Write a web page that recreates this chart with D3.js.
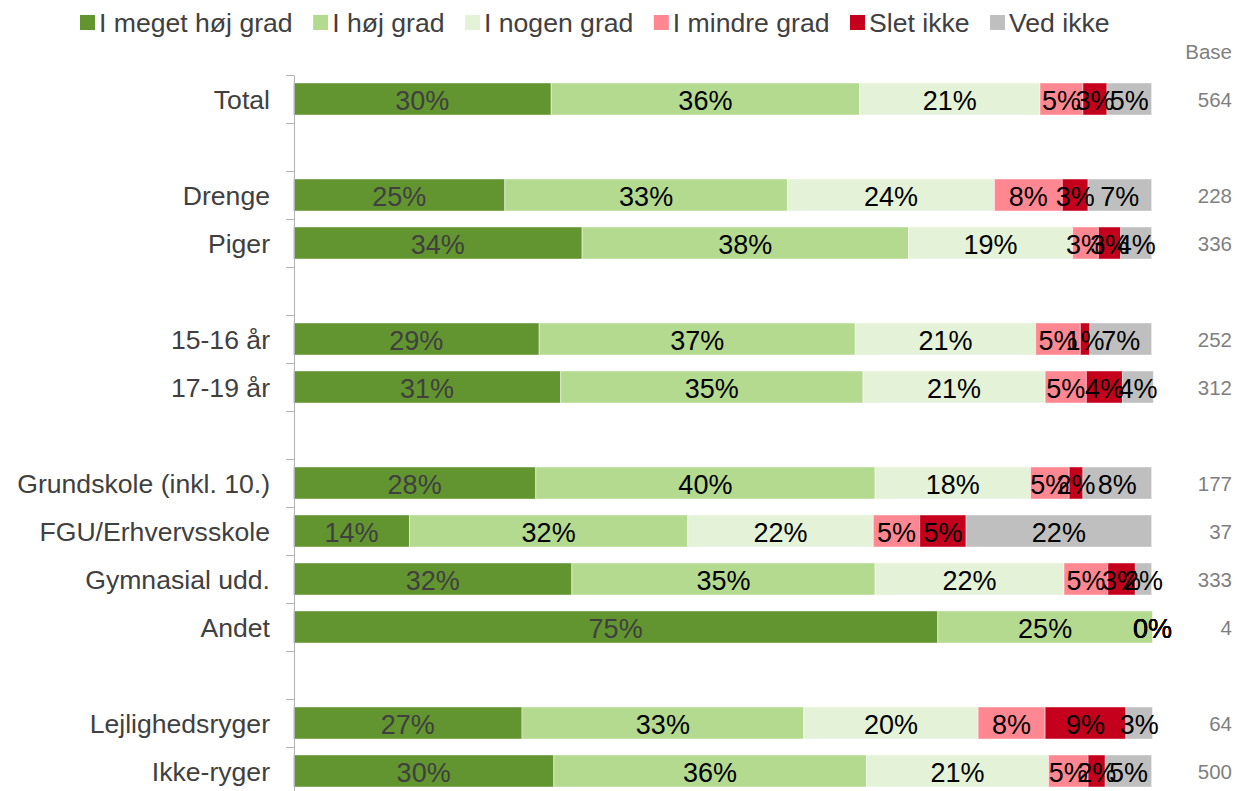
<!DOCTYPE html>
<html>
<head>
<meta charset="utf-8">
<script src="https://cdn.jsdelivr.net/npm/d3@7"></script>
<style>
  body { margin: 0; background: #fff; }
  svg { display: block; font-family: "Liberation Sans", Arial, sans-serif; }
</style>
</head>
<body>
<svg id="chart" width="1237" height="791"></svg>
<script>
// ---------- DATA ----------
const categories = ["Total", "", "Drenge", "Piger", "", "15-16 år", "17-19 år", "",
  "Grundskole (inkl. 10.)", "FGU/Erhvervsskole", "Gymnasial udd.", "Andet", "",
  "Lejlighedsryger", "Ikke-ryger"];
const bases = [564, null, 228, 336, null, 252, 312, null, 177, 37, 333, 4, null, 64, 500];

const seriesNames = ["I meget høj grad", "I høj grad", "I nogen grad", "I mindre grad", "Slet ikke", "Ved ikke"];
const meget  = [30.0, null, 24.6, 33.6, null, 28.6, 31.1, null, 28.2, 13.5, 32.4, 75, null, 26.6, 30.3];
const hoej   = [35.9, null, 32.9, 38.0, null, 36.8, 35.2, null, 39.5, 32.4, 35.3, 25, null, 32.8, 36.4];
const nogen  = [21.0, null, 24.1, 19.1, null, 21.0, 21.2, null, 18.1, 21.6, 22.0, 0, null, 20.3, 21.2];
const mindre = [5.0,  null, 7.9,  3.0,  null, 5.2,  4.8,  null, 4.5,  5.4,  5.1,  0, null, 7.8,  4.6];
const slet   = [2.8,  null, 3.0,  2.6,  null, 1.1,  4.2,  null, 1.6,  5.4,  3.2,  0, null, 9.4,  2.0];
const vedIkke= [5.2,  null, 7.4,  3.6,  null, 7.2,  3.6,  null, 8.0,  21.6, 1.9,  0, null, 3.1,  5.4];
const seriesValues = [meget, hoej, nogen, mindre, slet, vedIkke];

// ---------- STYLE ----------
const seriesColors = ["#62952f", "#b4da8f", "#e4f2d8", "#ff8792", "#c4001c", "#bfbfbf"];
const labelColors  = ["#404040", "#000000", "#000000", "#000000", "#000000", "#000000"];

const svg = d3.select("#chart");

const table = categories.map((c, i) => {
  const o = { i, cat: c };
  seriesNames.forEach((s, k) => { o[s] = seriesValues[k][i]; });
  return o;
}).filter(d => d[seriesNames[0]] != null);

const stacked = d3.stack().keys(seriesNames)(table);

const y = d3.scaleBand().domain(d3.range(categories.length))
  .range([75, 795]).paddingInner(1 / 3).paddingOuter(1 / 6);
const x = d3.scaleLinear().domain([0, 100]).range([293.5, 1152.5]);

// bars
const layers = svg.append("g").selectAll("g").data(stacked).join("g")
  .attr("fill", (d, k) => seriesColors[k]);
layers.selectAll("rect").data(d => d).join("rect")
  .attr("x", d => x(d[0]))
  .attr("y", d => y(d.data.i))
  .attr("width", d => Math.max(0, x(d[1]) - x(d[0])))
  .attr("height", y.bandwidth())
  .attr("stroke", "rgba(255,255,255,0.45)")
  .attr("stroke-width", 1);

// y axis with ticks at band boundaries
const yLin = d3.scaleLinear().domain([0, categories.length]).range([75, 795]);
const axisG = svg.append("g").attr("transform", "translate(294,0)")
  .call(d3.axisLeft(yLin).tickValues(d3.range(0, categories.length + 1))
    .tickSize(8).tickSizeOuter(0).tickFormat(""));
axisG.selectAll("path, line").attr("stroke", "#b3b3b3").attr("stroke-width", 1);

// category labels
svg.append("g").selectAll("text").data(table).join("text")
  .attr("x", 270)
  .attr("y", d => y(d.i) + y.bandwidth() / 2)
  .attr("dy", "0.36em")
  .attr("text-anchor", "end")
  .attr("font-size", 26.6)
  .attr("fill", "#404040")
  .text(d => d.cat);

// value labels
const lab = svg.append("g").selectAll("g").data(stacked).join("g")
  .attr("fill", (d, k) => labelColors[k]);
lab.selectAll("text").data(d => d.map(p => ({ p, key: d.key }))).join("text")
  .attr("x", d => x((d.p[0] + d.p[1]) / 2))
  .attr("y", d => y(d.p.data.i) + y.bandwidth() / 2)
  .attr("dy", "0.40em")
  .attr("text-anchor", "middle")
  .attr("font-size", 27)
  .text(d => Math.round(d.p.data[d.key]) + "%");

// base column
svg.append("text").attr("x", 1232).attr("y", 52).attr("dy", "0.36em")
  .attr("text-anchor", "end").attr("font-size", 20.5).attr("fill", "#7f7f7f").text("Base");
svg.append("g").selectAll("text").data(table).join("text")
  .attr("x", 1232)
  .attr("y", d => y(d.i) + y.bandwidth() / 2 + 1)
  .attr("dy", "0.36em")
  .attr("text-anchor", "end")
  .attr("font-size", 20.5)
  .attr("fill", "#7f7f7f")
  .text(d => bases[d.i]);

// legend
const legend = svg.append("g");
let lx = 80;
seriesNames.forEach((s, k) => {
  legend.append("rect").attr("x", lx).attr("y", 15).attr("width", 15).attr("height", 15)
    .attr("fill", seriesColors[k]);
  const t = legend.append("text").attr("x", lx + 19).attr("y", 22).attr("dy", "0.36em")
    .attr("font-size", 26.6).attr("fill", "#404040").text(s);
  lx += 19 + t.node().getComputedTextLength() + 20.5;
});
</script>
</body>
</html>
